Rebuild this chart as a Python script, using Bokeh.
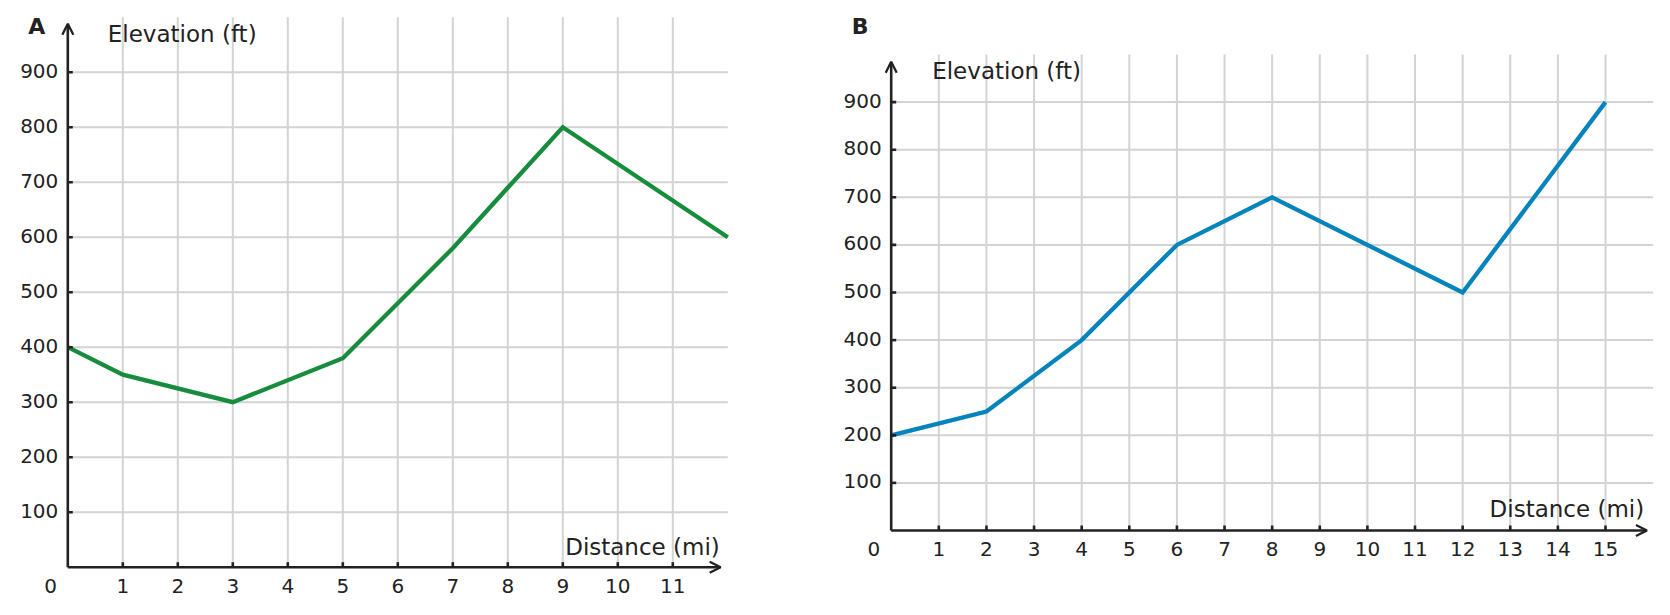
import math
from bokeh.plotting import figure
from bokeh.models import Range1d, Arrow, OpenHead
from bokeh.core.properties import value
from bokeh.embed import file_html
from bokeh.resources import INLINE

# ---------------- data ----------------
# Panel A
dist_a = [0, 1, 3, 5, 7, 9, 12]
elev_a = [400, 350, 300, 380, 580, 800, 600]
xticks_a = [1, 2, 3, 4, 5, 6, 7, 8, 9, 10, 11]

# Panel B
dist_b = [0, 2, 4, 6, 8, 12, 15]
elev_b = [200, 250, 400, 600, 700, 500, 900]
xticks_b = [1, 2, 3, 4, 5, 6, 7, 8, 9, 10, 11, 12, 13, 14, 15]

yticks = [100, 200, 300, 400, 500, 600, 700, 800, 900]
y_top = 1000

# ---------------- style / layout ----------------
W, H = 1670, 615
FONT = "DejaVu Sans"
INK = "#222222"
GRID = "#d3d3d3"
SHIFT = 0.37  # em, baseline correction of the renderer

LAYOUT = {
    "A": dict(ox=67.3, oy=566.7, kx=55.0, ky=0.55, xmax=12, color="#178c3c",
              arrow_x=11.87, arrow_y=988, elev_px=(40.0, 524.4), dist_px=(652.0, 12.0)),
    "B": dict(ox=890.7, oy=530.0, kx=47.62, ky=0.476, xmax=16, color="#0584bb",
              arrow_x=15.87, arrow_y=985, elev_px=(41.0, 451.0), dist_px=(753.0, 12.7)),
}


def ranges(L):
    xr = Range1d(-L["ox"] / L["kx"], (W - L["ox"]) / L["kx"])
    yr = Range1d((L["oy"] - H) / L["ky"], L["oy"] / L["ky"])
    return xr, yr


xa, ya = ranges(LAYOUT["A"])
xb, yb = ranges(LAYOUT["B"])

p = figure(width=W, height=H, x_range=xa, y_range=ya,
           x_axis_type=None, y_axis_type=None, min_border=0,
           output_backend="svg", toolbar_location=None)
p.extra_x_ranges = {"xb": xb}
p.extra_y_ranges = {"yb": yb}
p.outline_line_color = None
p.background_fill_color = "white"
p.border_fill_color = "white"


def draw_panel(letter, xs, ys, xticks, xr, yr):
    L = LAYOUT[letter]
    kx, ky = L["kx"], L["ky"]
    rn = dict(x_range_name=xr, y_range_name=yr)
    txt = dict(text_font=value(FONT), text_color=INK, **rn)

    def up(size):
        return SHIFT * size / ky

    # grid
    p.segment(x0=xticks, y0=[0] * len(xticks), x1=xticks, y1=[y_top] * len(xticks),
              line_color=GRID, line_width=2, **rn)
    p.segment(x0=[0] * len(yticks), y0=yticks, x1=[L["xmax"]] * len(yticks), y1=yticks,
              line_color=GRID, line_width=2, **rn)

    # data line
    p.line(xs, ys, line_color=L["color"], line_width=4.3, line_join="miter", **rn)

    # axes with arrows
    for (xe, ye) in ((L["arrow_x"], 0), (0, L["arrow_y"])):
        p.add_layout(Arrow(end=OpenHead(size=11, line_width=2.3, line_color=INK),
                           x_start=0, y_start=0, x_end=xe, y_end=ye,
                           line_color=INK, line_width=2.6, **rn))

    # tick marks (inside)
    p.ray(x=xticks, y=0, length=5, length_units="screen", angle=math.pi / 2,
          line_color=INK, line_width=2.6, **rn)
    p.ray(x=0, y=yticks, length=5, length_units="screen", angle=0,
          line_color=INK, line_width=2.6, **rn)

    # tick labels
    p.text(x=xticks, y=-25.7 / ky + up(20), text=[str(t) for t in xticks],
           text_align="center", text_baseline="alphabetic", text_font_size="20px", **txt)
    p.text(x=-9.5 / kx, y=[t - 5.8 / ky + up(20) for t in yticks], text=[str(t) for t in yticks],
           text_align="right", text_baseline="alphabetic", text_font_size="20px", **txt)
    p.text(x=[-17.3 / kx], y=[-25.7 / ky + up(20)], text=["0"],
           text_align="center", text_baseline="alphabetic", text_font_size="20px", **txt)

    # panel letter
    p.text(x=[-31.0 / kx], y=[(L["oy"] - 34.3) / ky + up(22)], text=[letter],
           text_align="center", text_baseline="alphabetic", text_font_size="22px",
           text_font_style="bold", **txt)

    # axis titles
    p.text(x=[L["elev_px"][0] / kx], y=[L["elev_px"][1] / ky + up(23)], text=["Elevation (ft)"],
           text_align="left", text_baseline="alphabetic", text_font_size="23px", **txt)
    p.text(x=[L["dist_px"][0] / kx], y=[L["dist_px"][1] / ky + up(23)], text=["Distance (mi)"],
           text_align="right", text_baseline="alphabetic", text_font_size="23px", **txt)


draw_panel("A", dist_a, elev_a, xticks_a, "default", "default")
draw_panel("B", dist_b, elev_b, xticks_b, "xb", "yb")

open("out.html", "w").write(file_html(p, INLINE))
